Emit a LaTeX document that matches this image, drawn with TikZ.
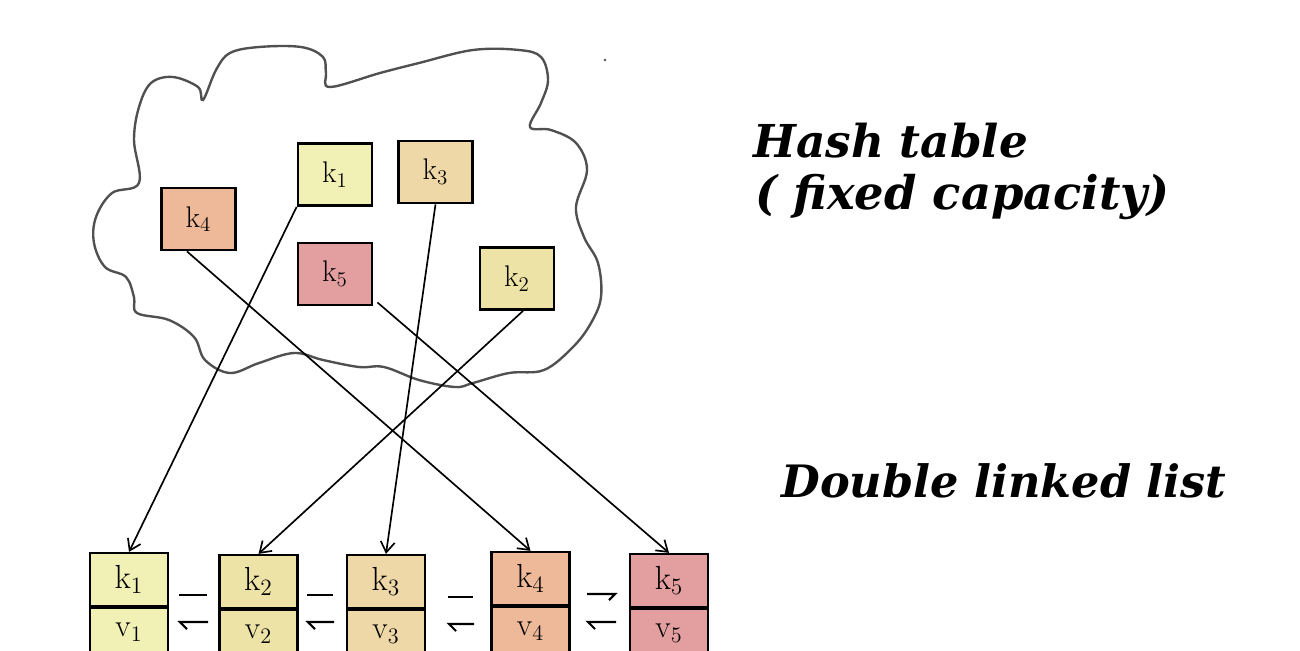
\documentclass[tikz,border=0pt]{standalone}
\usepackage{fontspec}
\newfontfamily\titlefont{DejaVu Serif}
\usetikzlibrary{arrows.meta,calc}
\definecolor{cloudgray}{RGB}{80,80,80}
\definecolor{ck1}{RGB}{241,240,181}
\definecolor{ck2}{RGB}{238,227,167}
\definecolor{ck3}{RGB}{239,216,168}
\definecolor{ck4}{RGB}{237,185,153}
\definecolor{ck5}{RGB}{227,159,159}
\tikzset{
  hbox/.style={draw=black, line width=1.6pt, inner sep=0pt, minimum width=1.48cm, minimum height=1.24cm, font=\fontsize{17}{17}\selectfont},
  lkey/.style={draw=black, line width=1.3pt, inner sep=0pt, minimum width=1.56cm, minimum height=1.06cm, font=\fontsize{19}{19}\selectfont},
  lval/.style={draw=black, line width=1.3pt, inner sep=0pt, minimum width=1.56cm, minimum height=0.96cm, font=\fontsize{18}{18}\selectfont},
  link/.style={draw=black, line width=0.95pt, -{Straight Barb[length=6pt,width=8pt]}},
  harp/.style={draw=black, line width=1.2pt},
  title/.style={font=\titlefont\bfseries\itshape\fontsize{25.8}{26}\selectfont, inner sep=0pt}
}
\begin{document}
\begin{tikzpicture}[x=0.02cm,y=-0.02cm]
\clip (0,0) rectangle (1300,650);
\fill[white] (0,0) rectangle (1300,650);
% cloud
\draw[cloudgray, line width=1.35pt] plot[smooth cycle, tension=0.6] coordinates {
(203,100) (198,87) (173,77) (151,83) (139,107) (134,140) (139,183) (112,193)
(96,217) (94,243) (105,267) (126,277) (134,297) (137,313) (169,320) (194,337)
(205,360) (230,373) (259,363) (294,353) (323,360) (359,367) (384,367) (419,380)
(455,387) (473,383) (509,373) (544,370) (573,347) (591,323) (601,297) (598,263)
(584,237) (576,207) (587,170) (576,143) (551,130) (530,127) (541,103) (548,80)
(541,57) (519,50) (473,50) (419,63) (380,73) (330,87) (326,73) (323,57)
(301,47) (259,47) (230,53) (216,70)};
\fill[cloudgray] (605,60) circle[radius=1.3];
% hash table entries
\node[hbox, fill=ck4] (hk4) at (198.5,219) {k\textsubscript{4}};
\node[hbox, fill=ck1] (hk1) at (335,174.5) {k\textsubscript{1}};
\node[hbox, fill=ck3] (hk3) at (435.5,172) {k\textsubscript{3}};
\node[hbox, fill=ck5] (hk5) at (335,274) {k\textsubscript{5}};
\node[hbox, fill=ck2] (hk2) at (517,278.5) {k\textsubscript{2}};
% list entries
\node[lkey, fill=ck1] (l1) at (129,579.5) {k\textsubscript{1}};
\node[lval, fill=ck1, anchor=north] (lv1) at (l1.south) {v\textsubscript{1}};
\node[lkey, fill=ck2] (l2) at (258.5,581.5) {k\textsubscript{2}};
\node[lval, fill=ck2, anchor=north] (lv2) at (l2.south) {v\textsubscript{2}};
\node[lkey, fill=ck3] (l3) at (386,581.5) {k\textsubscript{3}};
\node[lval, fill=ck3, anchor=north] (lv3) at (l3.south) {v\textsubscript{3}};
\node[lkey, fill=ck4] (l4) at (530.5,578.5) {k\textsubscript{4}};
\node[lval, fill=ck4, anchor=north] (lv4) at (l4.south) {v\textsubscript{4}};
\node[lkey, fill=ck5] (l5) at (669,580.5) {k\textsubscript{5}};
\node[lval, fill=ck5, anchor=north] (lv5) at (l5.south) {v\textsubscript{5}};
% links between list entries
\draw[harp] (179,595) -- (207,595);
\draw[harp] (208,622) -- (180,622) -- (187,629);
\draw[harp] (307,595) -- (333,595);
\draw[harp] (334,622) -- (308,622) -- (315,629);
\draw[harp] (448,597) -- (473,597);
\draw[harp] (474,624) -- (449,624) -- (456,631);
\draw[harp] (587,594) -- (615,594) -- (609,600);
\draw[harp] (616,622) -- (588,622) -- (595,629);
% pointers from hash table to list
\draw[link] (hk1.south west) -- (l1.north);
\draw[link] (hk3.south) -- (l3.north);
\draw[link] ($(hk2.south)+(6,0)$) -- (l2.north);
\draw[link] ($(hk4.south west)!0.35!(hk4.south east)$) -- (l4.north);
\draw[link] ($(hk5.south east)+(4,-4)$) -- (l5.north);
% titles
\node[title, anchor=base west] (t1) at (753,157) {Hash table};
\node[title, anchor=base west, font=\titlefont\bfseries\itshape\fontsize{26.4}{27}\selectfont] (t2) at (755,209) {( fixed capacity)};
\node[title, anchor=base west, font=\titlefont\bfseries\itshape\fontsize{25.4}{26}\selectfont] (t3) at (781,497) {Double linked list};
\end{tikzpicture}
\end{document}
